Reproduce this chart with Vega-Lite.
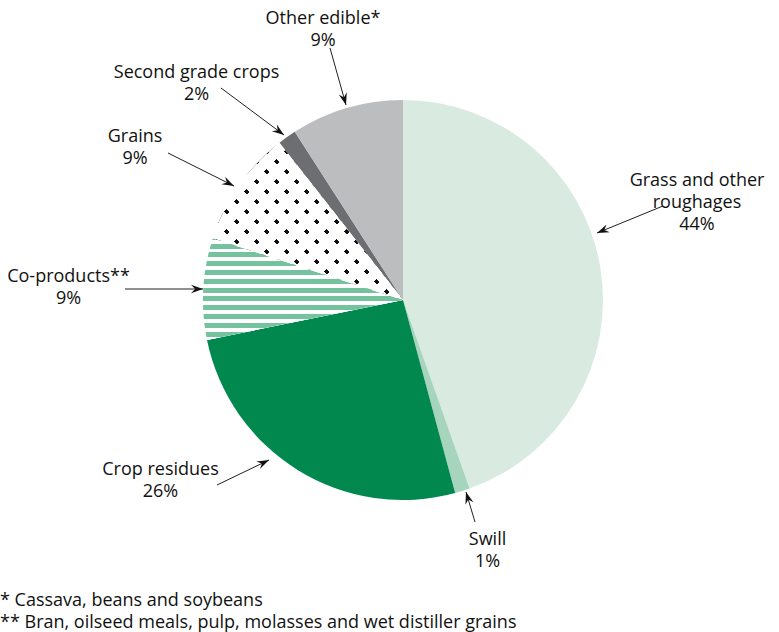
{
  "$schema": "https://vega.github.io/schema/vega-lite/v6.json",
  "width": 779,
  "height": 632,
  "autosize": {"type": "fit", "contains": "padding"},
  "padding": 0,
  "config": {"view": {"stroke": null}, "font": "Open Sans"},
  "datasets": {
    "slices": [
      {"category": "Grass and other roughages", "value": 44.6, "order": 1},
      {"category": "Swill", "value": 1.2, "order": 2},
      {"category": "Crop residues", "value": 26, "order": 3},
      {"category": "Co-products", "value": 8.2, "order": 4},
      {"category": "Grains", "value": 9.4, "order": 5},
      {"category": "Second grade crops", "value": 1.5, "order": 6},
      {"category": "Other edible", "value": 9.1, "order": 7}
    ],
    "labels": [
      {"lines": ["Other edible*", "9%"], "x": -40, "y": 138},
      {"lines": ["Second grade crops", "2%"], "x": -103.25, "y": 111},
      {"lines": ["Grains", "9%"], "x": -134, "y": 79},
      {"lines": ["Co-products**", "9%"], "x": -167.25, "y": 9},
      {"lines": ["Crop residues", "26%"], "x": -121.25, "y": -87.5},
      {"lines": ["Swill", "1%"], "x": 42.25, "y": -122.5},
      {"lines": ["Grass and other", "roughages", "44%"], "x": 147, "y": 57}
    ],
    "notes": [
      {"note": ["* Cassava, beans and soybeans", "** Bran, oilseed meals, pulp, molasses and wet distiller grains"], "x": -201.5, "y": -152.75}
    ],
    "arrows": [
      {"tx": -36.5, "ty": 126, "hx": -28.5, "hy": 97.5},
      {"tx": -91, "ty": 106, "hx": -59.5, "hy": 82.5},
      {"tx": -117.5, "ty": 73.5, "hx": -84.5, "hy": 57},
      {"tx": -139, "ty": 5.5, "hx": -100, "hy": 5.5},
      {"tx": -93, "ty": -92.5, "hx": -67, "hy": -80},
      {"tx": 36, "ty": -111, "hx": 31.5, "hy": -96},
      {"tx": 130, "ty": 47, "hx": 97, "hy": 33.5}
    ]
  },
  "layer": [
    {
      "data": {"name": "slices"},
      "transform": [{"stack": "value", "groupby": [], "sort": [{"field": "order"}], "as": ["v0", "v1"]}],
      "mark": {"type": "arc", "outerRadius": 200, "stroke": null},
      "encoding": {
        "x": {"datum": 0, "type": "quantitative", "scale": {"domain": [-201.5, 188], "nice": false, "zero": false}, "axis": null},
        "y": {"datum": 0, "type": "quantitative", "scale": {"domain": [-166, 150], "nice": false, "zero": false}, "axis": null},
        "theta": {"field": "v0", "type": "quantitative", "stack": null, "scale": {"domain": [0, 100]}},
        "theta2": {"field": "v1"},
        "fill": {
          "field": "category", "type": "nominal", "legend": null,
          "scale": {
            "domain": ["Grass and other roughages", "Swill", "Crop residues", "Co-products", "Grains", "Second grade crops", "Other edible"],
            "range": ["#d9ebe1", "#a6d4bd", "#00884f", "#ffffff", "#ffffff", "#6d6e71", "#bcbdbf"]
          }
        }
      }
    },
    {
      "data": {"name": "slices"},
      "transform": [
        {"stack": "value", "groupby": [], "sort": [{"field": "order"}], "as": ["v0", "v1"]},
        {"filter": "datum.category === 'Co-products'"}
      ],
      "mark": {
        "type": "arc", "outerRadius": 200, "stroke": null,
        "fill": {
          "gradient": "linear", "x1": 0, "y1": 0, "x2": 0, "y2": 1,
          "stops": [
            {"offset": 0, "color": "#74c29e"}, {"offset": 0.016, "color": "#74c29e"}, {"offset": 0.016, "color": "#ffffff"}, {"offset": 0.0535, "color": "#ffffff"},
            {"offset": 0.0535, "color": "#74c29e"}, {"offset": 0.1025, "color": "#74c29e"}, {"offset": 0.1025, "color": "#ffffff"}, {"offset": 0.14, "color": "#ffffff"},
            {"offset": 0.14, "color": "#74c29e"}, {"offset": 0.189, "color": "#74c29e"}, {"offset": 0.189, "color": "#ffffff"}, {"offset": 0.2265, "color": "#ffffff"},
            {"offset": 0.2265, "color": "#74c29e"}, {"offset": 0.2755, "color": "#74c29e"}, {"offset": 0.2755, "color": "#ffffff"}, {"offset": 0.313, "color": "#ffffff"},
            {"offset": 0.313, "color": "#74c29e"}, {"offset": 0.362, "color": "#74c29e"}, {"offset": 0.362, "color": "#ffffff"}, {"offset": 0.3995, "color": "#ffffff"},
            {"offset": 0.3995, "color": "#74c29e"}, {"offset": 0.4485, "color": "#74c29e"}, {"offset": 0.4485, "color": "#ffffff"}, {"offset": 0.486, "color": "#ffffff"},
            {"offset": 0.486, "color": "#74c29e"}, {"offset": 0.535, "color": "#74c29e"}, {"offset": 0.535, "color": "#ffffff"}, {"offset": 0.5725, "color": "#ffffff"},
            {"offset": 0.5725, "color": "#74c29e"}, {"offset": 0.6215, "color": "#74c29e"}, {"offset": 0.6215, "color": "#ffffff"}, {"offset": 0.659, "color": "#ffffff"},
            {"offset": 0.659, "color": "#74c29e"}, {"offset": 0.708, "color": "#74c29e"}, {"offset": 0.708, "color": "#ffffff"}, {"offset": 0.7455, "color": "#ffffff"},
            {"offset": 0.7455, "color": "#74c29e"}, {"offset": 0.7945, "color": "#74c29e"}, {"offset": 0.7945, "color": "#ffffff"}, {"offset": 0.832, "color": "#ffffff"},
            {"offset": 0.832, "color": "#74c29e"}, {"offset": 0.881, "color": "#74c29e"}, {"offset": 0.881, "color": "#ffffff"}, {"offset": 0.9185, "color": "#ffffff"},
            {"offset": 0.9185, "color": "#74c29e"}, {"offset": 0.9675, "color": "#74c29e"}, {"offset": 0.9675, "color": "#ffffff"}, {"offset": 1, "color": "#ffffff"}
          ]
        }
      },
      "encoding": {
        "x": {"datum": 0, "type": "quantitative", "scale": {"domain": [-201.5, 188], "nice": false, "zero": false}, "axis": null},
        "y": {"datum": 0, "type": "quantitative", "scale": {"domain": [-166, 150], "nice": false, "zero": false}, "axis": null},
        "theta": {"field": "v0", "type": "quantitative", "stack": null, "scale": {"domain": [0, 100]}},
        "theta2": {"field": "v1"}
      }
    },
    {
      "data": {"name": "slices"},
      "transform": [
        {"stack": "value", "groupby": [], "sort": [{"field": "order"}], "as": ["v0", "v1"]},
        {"filter": "datum.category === 'Grains'"}
      ],
      "mark": {
        "type": "arc", "outerRadius": 200, "stroke": null,
        "fill": {
          "gradient": "linear", "x1": 0, "y1": 0, "x2": 1.1, "y2": 0.909,
          "stops": [
            {"offset": 0, "color": "#111111"},
            {"offset": 0.016, "color": "#111111"}, {"offset": 0.016, "color": "#ffffff"},
            {"offset": 0.0568, "color": "#ffffff"}, {"offset": 0.0568, "color": "#111111"}, {"offset": 0.0728, "color": "#111111"}, {"offset": 0.0728, "color": "#ffffff"},
            {"offset": 0.1136, "color": "#ffffff"}, {"offset": 0.1136, "color": "#111111"}, {"offset": 0.1296, "color": "#111111"}, {"offset": 0.1296, "color": "#ffffff"},
            {"offset": 0.1704, "color": "#ffffff"}, {"offset": 0.1704, "color": "#111111"}, {"offset": 0.1864, "color": "#111111"}, {"offset": 0.1864, "color": "#ffffff"},
            {"offset": 0.2272, "color": "#ffffff"}, {"offset": 0.2272, "color": "#111111"}, {"offset": 0.2432, "color": "#111111"}, {"offset": 0.2432, "color": "#ffffff"},
            {"offset": 0.284, "color": "#ffffff"}, {"offset": 0.284, "color": "#111111"}, {"offset": 0.3, "color": "#111111"}, {"offset": 0.3, "color": "#ffffff"},
            {"offset": 0.3408, "color": "#ffffff"}, {"offset": 0.3408, "color": "#111111"}, {"offset": 0.3568, "color": "#111111"}, {"offset": 0.3568, "color": "#ffffff"},
            {"offset": 0.3976, "color": "#ffffff"}, {"offset": 0.3976, "color": "#111111"}, {"offset": 0.4136, "color": "#111111"}, {"offset": 0.4136, "color": "#ffffff"},
            {"offset": 0.4544, "color": "#ffffff"}, {"offset": 0.4544, "color": "#111111"}, {"offset": 0.4704, "color": "#111111"}, {"offset": 0.4704, "color": "#ffffff"},
            {"offset": 0.5112, "color": "#ffffff"}, {"offset": 0.5112, "color": "#111111"}, {"offset": 0.5272, "color": "#111111"}, {"offset": 0.5272, "color": "#ffffff"},
            {"offset": 0.568, "color": "#ffffff"}, {"offset": 0.568, "color": "#111111"}, {"offset": 0.584, "color": "#111111"}, {"offset": 0.584, "color": "#ffffff"},
            {"offset": 0.6248, "color": "#ffffff"}, {"offset": 0.6248, "color": "#111111"}, {"offset": 0.6408, "color": "#111111"}, {"offset": 0.6408, "color": "#ffffff"},
            {"offset": 0.6816, "color": "#ffffff"}, {"offset": 0.6816, "color": "#111111"}, {"offset": 0.6976, "color": "#111111"}, {"offset": 0.6976, "color": "#ffffff"},
            {"offset": 0.7384, "color": "#ffffff"}, {"offset": 0.7384, "color": "#111111"}, {"offset": 0.7544, "color": "#111111"}, {"offset": 0.7544, "color": "#ffffff"},
            {"offset": 0.7952, "color": "#ffffff"}, {"offset": 0.7952, "color": "#111111"}, {"offset": 0.8112, "color": "#111111"}, {"offset": 0.8112, "color": "#ffffff"},
            {"offset": 0.852, "color": "#ffffff"}, {"offset": 0.852, "color": "#111111"}, {"offset": 0.868, "color": "#111111"}, {"offset": 0.868, "color": "#ffffff"},
            {"offset": 0.9088, "color": "#ffffff"}, {"offset": 0.9088, "color": "#111111"}, {"offset": 0.9248, "color": "#111111"}, {"offset": 0.9248, "color": "#ffffff"},
            {"offset": 0.9656, "color": "#ffffff"}, {"offset": 0.9656, "color": "#111111"}, {"offset": 0.9816, "color": "#111111"}, {"offset": 0.9816, "color": "#ffffff"},
            {"offset": 1, "color": "#ffffff"}
          ]
        }
      },
      "encoding": {
        "x": {"datum": 0, "type": "quantitative", "scale": {"domain": [-201.5, 188], "nice": false, "zero": false}, "axis": null},
        "y": {"datum": 0, "type": "quantitative", "scale": {"domain": [-166, 150], "nice": false, "zero": false}, "axis": null},
        "theta": {"field": "v0", "type": "quantitative", "stack": null, "scale": {"domain": [0, 100]}},
        "theta2": {"field": "v1"}
      }
    },
    {
      "data": {"name": "slices"},
      "transform": [
        {"stack": "value", "groupby": [], "sort": [{"field": "order"}], "as": ["v0", "v1"]},
        {"filter": "datum.category === 'Grains'"}
      ],
      "mark": {
        "type": "arc", "outerRadius": 200, "stroke": null,
        "fill": {
          "gradient": "linear", "x1": 0, "y1": 1, "x2": 1.1, "y2": 0.091,
          "stops": [
            {"offset": 0, "color": "rgba(255,255,255,0)"},
            {"offset": 0.0143, "color": "rgba(255,255,255,0)"}, {"offset": 0.0143, "color": "#ffffff"},
            {"offset": 0.0551, "color": "#ffffff"}, {"offset": 0.0551, "color": "rgba(255,255,255,0)"}, {"offset": 0.0711, "color": "rgba(255,255,255,0)"}, {"offset": 0.0711, "color": "#ffffff"},
            {"offset": 0.1119, "color": "#ffffff"}, {"offset": 0.1119, "color": "rgba(255,255,255,0)"}, {"offset": 0.1279, "color": "rgba(255,255,255,0)"}, {"offset": 0.1279, "color": "#ffffff"},
            {"offset": 0.1687, "color": "#ffffff"}, {"offset": 0.1687, "color": "rgba(255,255,255,0)"}, {"offset": 0.1847, "color": "rgba(255,255,255,0)"}, {"offset": 0.1847, "color": "#ffffff"},
            {"offset": 0.2255, "color": "#ffffff"}, {"offset": 0.2255, "color": "rgba(255,255,255,0)"}, {"offset": 0.2415, "color": "rgba(255,255,255,0)"}, {"offset": 0.2415, "color": "#ffffff"},
            {"offset": 0.2823, "color": "#ffffff"}, {"offset": 0.2823, "color": "rgba(255,255,255,0)"}, {"offset": 0.2983, "color": "rgba(255,255,255,0)"}, {"offset": 0.2983, "color": "#ffffff"},
            {"offset": 0.3391, "color": "#ffffff"}, {"offset": 0.3391, "color": "rgba(255,255,255,0)"}, {"offset": 0.3551, "color": "rgba(255,255,255,0)"}, {"offset": 0.3551, "color": "#ffffff"},
            {"offset": 0.3959, "color": "#ffffff"}, {"offset": 0.3959, "color": "rgba(255,255,255,0)"}, {"offset": 0.4119, "color": "rgba(255,255,255,0)"}, {"offset": 0.4119, "color": "#ffffff"},
            {"offset": 0.4527, "color": "#ffffff"}, {"offset": 0.4527, "color": "rgba(255,255,255,0)"}, {"offset": 0.4687, "color": "rgba(255,255,255,0)"}, {"offset": 0.4687, "color": "#ffffff"},
            {"offset": 0.5095, "color": "#ffffff"}, {"offset": 0.5095, "color": "rgba(255,255,255,0)"}, {"offset": 0.5255, "color": "rgba(255,255,255,0)"}, {"offset": 0.5255, "color": "#ffffff"},
            {"offset": 0.5663, "color": "#ffffff"}, {"offset": 0.5663, "color": "rgba(255,255,255,0)"}, {"offset": 0.5823, "color": "rgba(255,255,255,0)"}, {"offset": 0.5823, "color": "#ffffff"},
            {"offset": 0.6231, "color": "#ffffff"}, {"offset": 0.6231, "color": "rgba(255,255,255,0)"}, {"offset": 0.6391, "color": "rgba(255,255,255,0)"}, {"offset": 0.6391, "color": "#ffffff"},
            {"offset": 0.6799, "color": "#ffffff"}, {"offset": 0.6799, "color": "rgba(255,255,255,0)"}, {"offset": 0.6959, "color": "rgba(255,255,255,0)"}, {"offset": 0.6959, "color": "#ffffff"},
            {"offset": 0.7367, "color": "#ffffff"}, {"offset": 0.7367, "color": "rgba(255,255,255,0)"}, {"offset": 0.7527, "color": "rgba(255,255,255,0)"}, {"offset": 0.7527, "color": "#ffffff"},
            {"offset": 0.7935, "color": "#ffffff"}, {"offset": 0.7935, "color": "rgba(255,255,255,0)"}, {"offset": 0.8095, "color": "rgba(255,255,255,0)"}, {"offset": 0.8095, "color": "#ffffff"},
            {"offset": 0.8503, "color": "#ffffff"}, {"offset": 0.8503, "color": "rgba(255,255,255,0)"}, {"offset": 0.8663, "color": "rgba(255,255,255,0)"}, {"offset": 0.8663, "color": "#ffffff"},
            {"offset": 0.9071, "color": "#ffffff"}, {"offset": 0.9071, "color": "rgba(255,255,255,0)"}, {"offset": 0.9231, "color": "rgba(255,255,255,0)"}, {"offset": 0.9231, "color": "#ffffff"},
            {"offset": 0.9639, "color": "#ffffff"}, {"offset": 0.9639, "color": "rgba(255,255,255,0)"}, {"offset": 0.9799, "color": "rgba(255,255,255,0)"}, {"offset": 0.9799, "color": "#ffffff"},
            {"offset": 1, "color": "#ffffff"}
          ]
        }
      },
      "encoding": {
        "x": {"datum": 0, "type": "quantitative", "scale": {"domain": [-201.5, 188], "nice": false, "zero": false}, "axis": null},
        "y": {"datum": 0, "type": "quantitative", "scale": {"domain": [-166, 150], "nice": false, "zero": false}, "axis": null},
        "theta": {"field": "v0", "type": "quantitative", "stack": null, "scale": {"domain": [0, 100]}},
        "theta2": {"field": "v1"}
      }
    },
    {
      "data": {"name": "arrows"},
      "mark": {"type": "rule", "color": "#231f20", "strokeWidth": 1},
      "encoding": {
        "x": {"field": "tx", "type": "quantitative", "scale": {"domain": [-201.5, 188], "nice": false, "zero": false}, "axis": null},
        "y": {"field": "ty", "type": "quantitative", "scale": {"domain": [-166, 150], "nice": false, "zero": false}, "axis": null},
        "x2": {"field": "hx"},
        "y2": {"field": "hy"}
      }
    },
    {
      "data": {"name": "arrows"},
      "transform": [{"calculate": "atan2(datum.hx - datum.tx, datum.hy - datum.ty) * 180 / PI", "as": "dir"}],
      "mark": {"type": "point", "shape": "M0,0L-0.8,2.3L0,1.5L0.8,2.3Z", "size": 110, "filled": true, "color": "#111111", "opacity": 1, "strokeWidth": 0},
      "encoding": {
        "x": {"field": "hx", "type": "quantitative", "scale": {"domain": [-201.5, 188], "nice": false, "zero": false}, "axis": null},
        "y": {"field": "hy", "type": "quantitative", "scale": {"domain": [-166, 150], "nice": false, "zero": false}, "axis": null},
        "angle": {"field": "dir", "type": "quantitative", "scale": null}
      }
    },
    {
      "data": {"name": "labels"},
      "mark": {"type": "text", "align": "center", "baseline": "alphabetic", "fontSize": 18, "lineHeight": 22, "color": "#111111", "font": "Open Sans"},
      "encoding": {
        "x": {"field": "x", "type": "quantitative", "scale": {"domain": [-201.5, 188], "nice": false, "zero": false}, "axis": null},
        "y": {"field": "y", "type": "quantitative", "scale": {"domain": [-166, 150], "nice": false, "zero": false}, "axis": null},
        "text": {"field": "lines"}
      }
    },
    {
      "data": {"name": "notes"},
      "mark": {"type": "text", "align": "left", "baseline": "alphabetic", "fontSize": 18, "lineHeight": 22, "color": "#111111", "font": "Open Sans"},
      "encoding": {
        "x": {"field": "x", "type": "quantitative", "scale": {"domain": [-201.5, 188], "nice": false, "zero": false}, "axis": null},
        "y": {"field": "y", "type": "quantitative", "scale": {"domain": [-166, 150], "nice": false, "zero": false}, "axis": null},
        "text": {"field": "note"}
      }
    }
  ]
}
